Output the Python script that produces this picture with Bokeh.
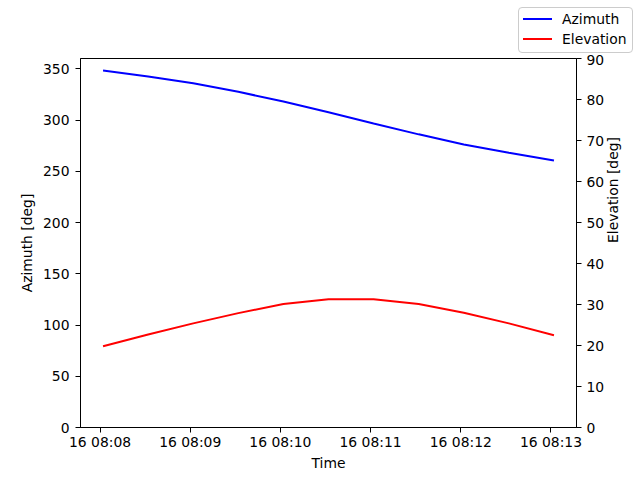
import math
from datetime import datetime
from bokeh.plotting import figure
from bokeh.layouts import column
from bokeh.models import (Range1d, LinearAxis, DatetimeTickFormatter, FixedTicker,
                          SingleIntervalTicker, Div)
from bokeh.embed import file_html
from bokeh.resources import INLINE

# ---- data ----
times = ["2024-01-16 08:08:02", "2024-01-16 08:08:32", "2024-01-16 08:09:02",
         "2024-01-16 08:09:32", "2024-01-16 08:10:02", "2024-01-16 08:10:32",
         "2024-01-16 08:11:02", "2024-01-16 08:11:32", "2024-01-16 08:12:02",
         "2024-01-16 08:12:32", "2024-01-16 08:13:02"]
azimuth = [348.3, 342.5, 335.8, 327.5, 318.0, 307.5, 296.5, 286.0, 276.0, 268.0, 260.5]
elevation = [19.8, 22.7, 25.4, 27.9, 30.1, 31.3, 31.3, 30.1, 28.0, 25.4, 22.5]
x_ticks = ["2024-01-16 08:08:00", "2024-01-16 08:09:00", "2024-01-16 08:10:00",
           "2024-01-16 08:11:00", "2024-01-16 08:12:00", "2024-01-16 08:13:00"]
x_limits = ["2024-01-16 08:07:47", "2024-01-16 08:13:17"]
series_names = ["Azimuth", "Elevation"]
series_colors = ["#0000ff", "#ff0000"]

def to_dt(s):
    return datetime.strptime(s, "%Y-%m-%d %H:%M:%S")

def to_ms(s):
    d = to_dt(s)
    return (d - datetime(1970, 1, 1)).total_seconds() * 1000.0

xs = [to_dt(t) for t in times]
FONT = "DejaVu Sans"
FS = "13.9px"

# ---- figure-level legend (top right, outside the axes) ----
rows = "".join(
    '<div style="display:flex;align-items:center;height:20px;">'
    '<span style="display:inline-block;width:29px;height:0;border-top:2px solid %s;'
    'margin-right:10px;"></span>'
    '<span style="font-family:\'DejaVu Sans\';font-size:13.9px;color:#000;'
    'white-space:nowrap;line-height:20px;">%s</span></div>' % (c, n)
    for n, c in zip(series_names, series_colors))
legend_html = (
    '<div style="position:relative;width:640px;height:54px;margin:0;padding:0;">'
    '<div style="position:absolute;left:518px;top:7px;width:115px;height:46px;'
    'box-sizing:border-box;border:1px solid #cccccc;border-radius:4px;'
    'background:rgba(255,255,255,0.8);padding:1px 4px 3px 4px;">' + rows +
    '</div></div>')
lg = Div(text=legend_html, width=640, height=54, margin=(0, 0, 0, 0))

# ---- main plot ----
p = figure(width=640, height=426, x_axis_type="datetime",
           output_backend="svg", toolbar_location=None,
           x_range=Range1d(to_ms(x_limits[0]), to_ms(x_limits[1])),
           y_range=Range1d(0, 360),
           min_border_left=80, min_border_right=64, min_border_top=4, min_border_bottom=53)
p.extra_y_ranges = {"el": Range1d(0, 90)}
p.grid.visible = False
p.outline_line_color = "black"
p.outline_line_width = 1
p.background_fill_color = "white"
p.border_fill_color = "white"

p.line(xs, azimuth, line_color=series_colors[0], line_width=2)
p.line(xs, elevation, line_color=series_colors[1], line_width=2, y_range_name="el")

right = LinearAxis(y_range_name="el", axis_label="Elevation [deg]")
p.add_layout(right, "right")

p.xaxis.ticker = FixedTicker(ticks=[to_ms(t) for t in x_ticks])
p.xaxis.formatter = DatetimeTickFormatter(minutes="%d %H:%M", hours="%d %H:%M",
                                          seconds="%d %H:%M", minsec="%d %H:%M",
                                          hourmin="%d %H:%M")
p.xaxis.axis_label = "Time"
p.yaxis[0].axis_label = "Azimuth [deg]"
p.yaxis[0].ticker = SingleIntervalTicker(interval=50, num_minor_ticks=0)
right.ticker = SingleIntervalTicker(interval=10, num_minor_ticks=0)

for ax in [p.xaxis[0], p.yaxis[0], right]:
    ax.major_label_text_font = FONT
    ax.major_label_text_font_size = FS
    ax.major_label_text_color = "black"
    ax.axis_label_text_font = FONT
    ax.axis_label_text_font_size = FS
    ax.axis_label_text_font_style = "normal"
    ax.axis_label_text_color = "black"
    ax.major_tick_out = 5
    ax.major_tick_in = 0
    ax.minor_tick_out = 0
    ax.minor_tick_in = 0
    ax.axis_line_color = "black"
    ax.major_tick_line_color = "black"

p.xaxis[0].major_label_standoff = 1
p.xaxis[0].axis_label_standoff = 2
p.yaxis[0].major_label_standoff = 6
p.yaxis[0].axis_label_standoff = 5
right.major_label_standoff = 5
right.axis_label_standoff = 6
right.axis_label_orientation = math.pi / 2

layout = column(lg, p, spacing=0)
open("out.html", "w").write(file_html(layout, INLINE))
